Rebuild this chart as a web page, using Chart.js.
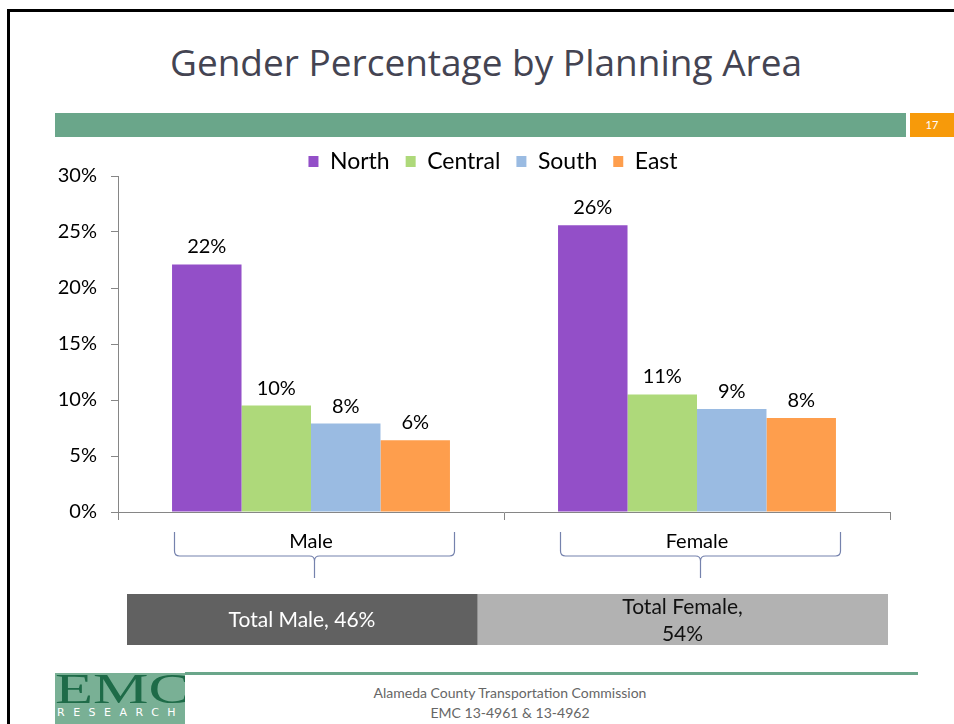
<!DOCTYPE html>
<html>
<head>
<meta charset="utf-8">
<script src="https://cdn.jsdelivr.net/npm/chart.js@4"></script>
<style>
  html, body { margin: 0; padding: 0; background: #fff; overflow: hidden; }
  #slide { position: relative; width: 954px; height: 724px; }
  .abs { position: absolute; }
  #frameTop { left: 7px; top: 9px; width: 947px; height: 3px; background: #000; }
  #frameLeft { left: 7px; top: 9px; width: 3px; height: 715px; background: #000; }
  #title { left: 0; top: 36px; width: 972px; text-align: center; font-family: "Open Sans", sans-serif;
           font-size: 37px; color: #444452; }
  #greenBar { left: 55px; top: 113px; width: 851px; height: 24px; background: #6aa68a; }
  #pageNo { left: 910px; top: 113px; width: 44px; height: 24px; background: #f79a0a; color: #fff;
            font-family: Lato, sans-serif; font-size: 11px; line-height: 24px; text-align: center; }
  #chartBox { left: 40px; top: 134px; width: 906px; height: 466px; }
  #totalBox { left: 127px; top: 594px; width: 761px; height: 51px; }
  #footLine { left: 185px; top: 672px; width: 733px; height: 3px; background: #6aa68a; }
  #logo { left: 55px; top: 673px; width: 130px; height: 51px; background: #79b095; overflow: hidden; }
  #logo .emc { position: absolute; left: 0; top: -6px; width: 91px; font-family: "Liberation Serif", serif;
               font-size: 43px; line-height: 43px; color: #1e6b48; transform: scaleX(1.45); transform-origin: 0 0; }
  #logo .res { position: absolute; left: 2px; top: 33px; font-family: "DejaVu Sans", sans-serif;
               font-size: 11px; color: #fff; letter-spacing: 8.5px; }
  #footText { left: 310px; top: 683px; width: 400px; text-align: center; font-family: Lato, sans-serif;
              font-size: 14px; line-height: 20px; color: #666; }
</style>
</head>
<body>
<div id="slide">
  <div class="abs" id="frameTop"></div>
  <div class="abs" id="frameLeft"></div>
  <div class="abs" id="title">Gender Percentage by Planning Area</div>
  <div class="abs" id="greenBar"></div>
  <div class="abs" id="pageNo">17</div>
  <div class="abs" id="chartBox"><canvas id="myCanvas" width="906" height="466"></canvas></div>
  <div class="abs" id="totalBox"><canvas id="myCanvasTotal" width="761" height="51"></canvas></div>
  <div class="abs" id="footLine"></div>
  <div class="abs" id="logo"><div class="emc">EMC</div><div class="res">RESEARCH</div></div>
  <div class="abs" id="footText">Alameda County Transportation Commission<br>EMC 13-4961 &amp; 13-4962</div>
</div>
<script>
const genders = ["Male", "Female"];
const areas = ["North", "Central", "South", "East"];
const areaColors = ["#934fc8", "#aed97a", "#9abbe2", "#fe9e4d"];
const north = [22.1, 25.6];
const central = [9.5, 10.5];
const south = [7.9, 9.2];
const east = [6.4, 8.4];
const yTicks = [0, 5, 10, 15, 20, 25, 30];
const totalLabels = ["Total Male, 46%", ["Total Female,", "54%"]];
const totals = [46, 54];
const totalColors = ["#616161", "#b2b2b2"];
const totalTextColors = ["#ffffff", "#111111"];

const FONT = "Lato, sans-serif";

// value labels above each bar
const barLabels = {
    id: "barLabels",
    afterDatasetsDraw(chart) {
        const c = chart.ctx;
        c.save();
        c.font = "20px " + FONT;
        c.fillStyle = "#000";
        c.textAlign = "center";
        c.textBaseline = "alphabetic";
        chart.data.datasets.forEach((ds, i) => {
            chart.getDatasetMeta(i).data.forEach((bar, j) => {
                c.fillText(Math.round(ds.data[j]) + "%", bar.x, bar.y - 11);
            });
        });
        c.restore();
    }
};

// curly braces under the category labels
const braces = {
    id: "braces",
    afterDraw(chart) {
        const c = chart.ctx;
        const x = chart.scales.x;
        const top = chart.chartArea.bottom + 20;
        const mid = top + 24;
        const tip = top + 46;
        const r = 5;
        c.save();
        c.strokeStyle = "#7582ad";
        c.lineWidth = 1.2;
        genders.forEach((g, i) => {
            const cx = x.getPixelForValue(i) + 3.5;
            const hw = 140;
            c.beginPath();
            c.moveTo(cx - hw, top);
            c.lineTo(cx - hw, mid - r);
            c.quadraticCurveTo(cx - hw, mid, cx - hw + r, mid);
            c.lineTo(cx - r, mid);
            c.quadraticCurveTo(cx, mid, cx, mid + r);
            c.lineTo(cx, tip);
            c.moveTo(cx, mid + r);
            c.quadraticCurveTo(cx, mid, cx + r, mid);
            c.lineTo(cx + hw - r, mid);
            c.quadraticCurveTo(cx + hw, mid, cx + hw, mid - r);
            c.lineTo(cx + hw, top);
            c.stroke();
        });
        c.restore();
    }
};

// fixed legend height so the plot starts right under it,
// and centre the legend over the whole slide rather than the padded box
const legendFix = {
    id: "legendFix",
    afterInit(chart) {
        const lg = chart.legend;
        const fit = lg.fit;
        lg.fit = function () {
            fit.call(this);
            this.height = 42;
        };
    },
    afterLayout(chart) {
        chart.legend.right += 56;
    }
};

const ctx = document.getElementById("myCanvas").getContext("2d");
const chart = new Chart(ctx, {
    type: "bar",
    data: {
        labels: genders,
        datasets: [north, central, south, east].map((d, i) => ({
            label: areas[i],
            data: d,
            backgroundColor: areaColors[i],
            borderWidth: 0
        }))
    },
    options: {
        responsive: false,
        animation: false,
        layout: { padding: { top: 0, left: 0, right: 56, bottom: 0 } },
        datasets: { bar: { barPercentage: 1, categoryPercentage: 0.72 } },
        scales: {
            x: {
                grid: { display: true, drawOnChartArea: false, tickLength: 8, color: "#868686" },
                border: { color: "#868686" },
                ticks: { font: { family: FONT, size: 20 }, color: "#000", padding: 10 },
                afterFit(s) { s.height = 88; }
            },
            y: {
                min: 0,
                max: 30,
                afterBuildTicks(s) { s.ticks = yTicks.map(v => ({ value: v })); },
                grid: { display: true, drawOnChartArea: false, tickLength: 7, color: "#868686" },
                border: { color: "#868686" },
                ticks: {
                    font: { family: FONT, size: 20 }, color: "#000", padding: 14,
                    callback: v => v + "%"
                },
                afterFit(s) { s.width = 78; }
            }
        },
        plugins: {
            legend: {
                display: true,
                position: "top",
                labels: {
                    font: { family: FONT, size: 23 }, color: "#000",
                    boxWidth: 10, boxHeight: 11, padding: 16
                }
            },
            tooltip: { enabled: false }
        }
    },
    plugins: [barLabels, braces, legendFix]
});

// totals bar
const totalText = {
    id: "totalText",
    afterDatasetsDraw(chart) {
        const c = chart.ctx;
        c.save();
        c.font = "21px " + FONT;
        c.textAlign = "center";
        c.textBaseline = "middle";
        chart.data.datasets.forEach((ds, i) => {
            const bar = chart.getDatasetMeta(i).data[0];
            const cx = (bar.x + bar.base) / 2;
            const lines = [].concat(totalLabels[i]);
            c.fillStyle = totalTextColors[i];
            lines.forEach((t, k) => {
                c.fillText(t, cx, bar.y + 1 + (k - (lines.length - 1) / 2) * 27);
            });
        });
        c.restore();
    }
};

const ctxTotal = document.getElementById("myCanvasTotal").getContext("2d");
new Chart(ctxTotal, {
    type: "bar",
    data: {
        labels: ["Total"],
        datasets: totals.map((v, i) => ({
            label: genders[i],
            data: [v],
            backgroundColor: totalColors[i],
            borderWidth: 0
        }))
    },
    options: {
        indexAxis: "y",
        responsive: false,
        animation: false,
        layout: { padding: 0 },
        datasets: { bar: { barPercentage: 1, categoryPercentage: 1 } },
        scales: {
            x: { stacked: true, min: 0, max: 100, display: false },
            y: { stacked: true, display: false }
        },
        plugins: { legend: { display: false }, tooltip: { enabled: false } }
    },
    plugins: [totalText]
});
</script>
</body>
</html>
